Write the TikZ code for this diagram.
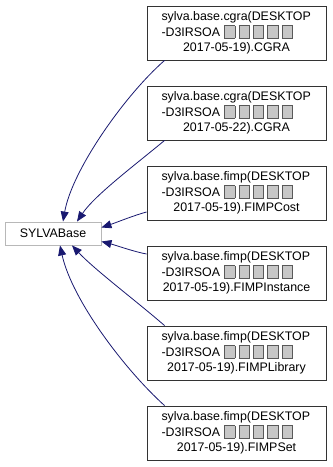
\documentclass[tikz,border=0pt]{standalone}
\usepackage{fontspec}
\setmainfont{Liberation Sans}
\usetikzlibrary{arrows.meta}

\definecolor{edgeblue}{HTML}{191970}

% placeholder glyph box for characters the font could not show
\newcommand{\tofu}{{\setlength{\fboxsep}{0pt}\setlength{\fboxrule}{0.8bp}%
  \raisebox{-1.5bp}{\fcolorbox{black!65}{black!22}{\rule{0pt}{11.5bp}\hspace{9.5bp}}}}\hspace{3.3bp}}
\newcommand{\tofurow}{\tofu\tofu\tofu\tofu\tofu}

\tikzset{
  basebox/.style={draw=black!28, line width=0.9bp, fill=white, minimum width=96bp,
    minimum height=23bp, inner sep=0pt},
  classbox/.style={draw=black!80, line width=0.9bp, fill=white, minimum width=179bp,
    minimum height=54bp, inner xsep=2bp, inner ysep=0pt, text width=150bp, align=left},
  inherit/.style={draw=edgeblue, line width=0.8bp,
    {Triangle[length=10bp,width=8bp,fill=edgeblue]}-},
}

% #1 package, #2 date, #3 class
\newcommand{\cls}[3]{sylva.base.#1(DESKTOP\\-D3IRSOA \tofurow\\\makebox[\linewidth]{#2).#3}}

\begin{document}
\begin{tikzpicture}[x=1bp, y=-1bp, font=\fontsize{12.4bp}{15.5bp}\selectfont]
\useasboundingbox (0,0) rectangle (332,467);

\node[basebox] (base) at (53,233.5) {SYLVABase};

\node[classbox] (c1) at (236.5,33)  {\cls{cgra}{2017-05-19}{CGRA}};
\node[classbox] (c2) at (236.5,113) {\cls{cgra}{2017-05-22}{CGRA}};
\node[classbox] (c3) at (236.5,193) {\cls{fimp}{2017-05-19}{FIMPCost}};
\node[classbox] (c4) at (236.5,273) {\cls{fimp}{2017-05-19}{FIMPInstance}};
\node[classbox] (c5) at (236.5,353) {\cls{fimp}{2017-05-19}{FIMPLibrary}};
\node[classbox] (c6) at (236.5,433) {\cls{fimp}{2017-05-19}{FIMPSet}};

\draw[inherit] ([xshift=10bp]base.north) .. controls (72,170) and (125,95) .. ([xshift=18bp]c1.south west);
\draw[inherit] ([xshift=24bp]base.north) .. controls (95,195) and (135,165) .. ([xshift=18bp]c2.south west);
\draw[inherit] ([yshift=6bp]base.east) .. controls (115,223) and (135,215) .. ([yshift=-19bp]c3.west);
\draw[inherit] ([yshift=-8bp]base.east) .. controls (115,245) and (135,252) .. ([yshift=19bp]c4.west);
\draw[inherit] ([xshift=19bp]base.south) .. controls (95,270) and (135,300) .. ([xshift=18bp]c5.north west);
\draw[inherit] ([xshift=7bp]base.south) .. controls (72,300) and (125,370) .. ([xshift=18bp]c6.north west);
\end{tikzpicture}
\end{document}
